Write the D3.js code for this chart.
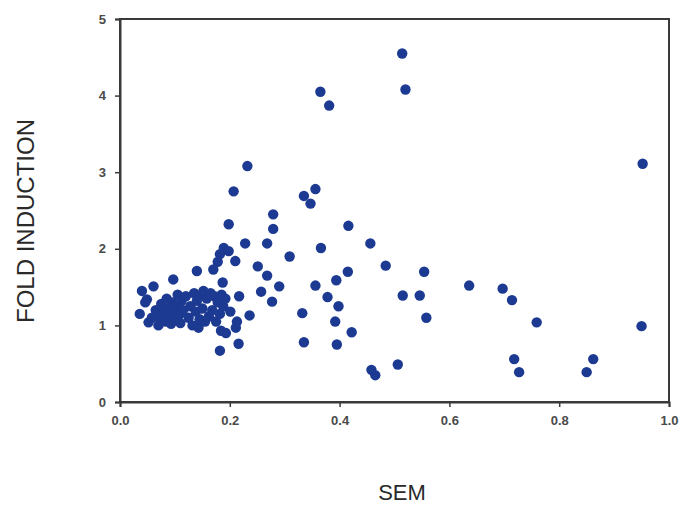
<!DOCTYPE html>
<html>
<head>
<meta charset="utf-8">
<script src="https://cdn.jsdelivr.net/npm/d3@7"></script>
<style>
  body { margin: 0; background: #fff; }
  svg { display: block; }
</style>
</head>
<body>
<div id="scatter"></div>
<script>
// SEM (x) and fold induction (y)
var semValues = [
  0.514, 0.520, 0.365, 0.381, 0.952, 0.232, 0.356, 0.207, 0.335, 0.347,
  0.279, 0.198, 0.416, 0.279, 0.228, 0.268, 0.456, 0.366, 0.189, 0.198,
  0.182, 0.309, 0.210, 0.178, 0.484, 0.251, 0.170, 0.140, 0.415, 0.554,
  0.268, 0.097, 0.394, 0.187, 0.636, 0.356, 0.061, 0.290, 0.697, 0.040,
  0.257, 0.515, 0.546, 0.217, 0.378, 0.049, 0.714, 0.277, 0.398, 0.201,
  0.332, 0.036, 0.236, 0.558, 0.392, 0.213, 0.052, 0.759, 0.950, 0.211,
  0.143, 0.184, 0.193, 0.422, 0.335, 0.216, 0.395, 0.182, 0.718, 0.862,
  0.506, 0.458, 0.465, 0.727, 0.850,
  // dense cluster near the origin
  0.065, 0.072, 0.075, 0.080, 0.083, 0.085, 0.088, 0.090, 0.093, 0.095,
  0.098, 0.100, 0.103, 0.105, 0.108, 0.110, 0.112, 0.115, 0.070, 0.078,
  0.120, 0.125, 0.128, 0.132, 0.135, 0.138, 0.140, 0.145, 0.148, 0.150,
  0.152, 0.155, 0.158, 0.162, 0.165, 0.168, 0.172, 0.175, 0.178, 0.182,
  0.185, 0.188, 0.192, 0.046, 0.058
];
var foldValues = [
  4.55, 4.08, 4.05, 3.87, 3.11, 3.08, 2.78, 2.75, 2.69, 2.59,
  2.45, 2.32, 2.30, 2.26, 2.07, 2.07, 2.07, 2.01, 2.01, 1.97,
  1.93, 1.90, 1.84, 1.83, 1.78, 1.77, 1.73, 1.71, 1.70, 1.70,
  1.65, 1.60, 1.59, 1.56, 1.52, 1.52, 1.51, 1.51, 1.48, 1.45,
  1.44, 1.39, 1.39, 1.38, 1.37, 1.34, 1.33, 1.31, 1.25, 1.18,
  1.16, 1.15, 1.13, 1.10, 1.05, 1.05, 1.04, 1.04, 0.99, 0.97,
  0.97, 0.93, 0.90, 0.91, 0.78, 0.76, 0.75, 0.67, 0.56, 0.56,
  0.49, 0.42, 0.35, 0.39, 0.39,
  1.20, 1.10, 1.28, 1.15, 1.05, 1.35, 1.22, 1.12, 1.02, 1.30,
  1.18, 1.08, 1.25, 1.40, 1.14, 1.03, 1.32, 1.20, 1.00, 1.24,
  1.38, 1.10, 1.25, 1.00, 1.42, 1.18, 1.32, 1.08, 1.40, 1.22,
  1.45, 1.05, 1.35, 1.12, 1.42, 1.20, 1.38, 1.05, 1.30, 1.15,
  1.40, 1.25, 1.35, 1.30, 1.10
];

// tick values
var xTicks = [0.0, 0.2, 0.4, 0.6, 0.8, 1.0];
var yTicks = [0, 1, 2, 3, 4, 5];

var svgWidth = 682;
var svgHeight = 506;
var margin = { top: 19, right: 13, bottom: 104, left: 120 };
var width = svgWidth - margin.left - margin.right;
var height = svgHeight - margin.top - margin.bottom;

var points = semValues.map(function(s, i) {
  return { sem: s, fold: foldValues[i] };
});

var svg = d3.select("#scatter")
  .append("svg")
  .attr("width", svgWidth)
  .attr("height", svgHeight);

var chartGroup = svg.append("g")
  .attr("transform", `translate(${margin.left}, ${margin.top})`);

var xScale = d3.scaleLinear().domain([0, 1]).range([0, width]);
var yScale = d3.scaleLinear().domain([0, 5]).range([height, 0]);

var axisColor = "#3a3a3a";

// frame (top and right edges)
chartGroup.append("rect")
  .attr("x", 0)
  .attr("y", 0)
  .attr("width", width)
  .attr("height", height)
  .attr("fill", "none")
  .attr("stroke", axisColor)
  .attr("stroke-width", 2);

var bottomAxis = d3.axisBottom(xScale)
  .tickValues(xTicks)
  .tickSize(5)
  .tickPadding(9)
  .tickFormat(d3.format(".1f"));

var leftAxis = d3.axisLeft(yScale)
  .tickValues(yTicks)
  .tickSize(5)
  .tickPadding(9)
  .tickFormat(d3.format("d"));

var xg = chartGroup.append("g")
  .attr("transform", `translate(0, ${height})`)
  .call(bottomAxis);

var yg = chartGroup.append("g")
  .call(leftAxis);

[xg, yg].forEach(function(g) {
  g.select(".domain").attr("stroke", axisColor).attr("stroke-width", 2);
  g.selectAll(".tick line").attr("stroke", axisColor).attr("stroke-width", 1.5);
  g.selectAll(".tick text")
    .attr("fill", "#4a4a4a")
    .attr("font-family", "Liberation Sans, Arial, sans-serif")
    .attr("font-size", "13px")
    .attr("font-weight", "bold");
});

// dots
chartGroup.append("g").selectAll("circle")
  .data(points)
  .enter()
  .append("circle")
  .attr("cx", d => xScale(d.sem))
  .attr("cy", d => yScale(d.fold))
  .attr("r", 5.2)
  .attr("fill", "#1d3a92");

// axis titles
svg.append("text")
  .attr("transform", "translate(34, 221) rotate(-90)")
  .attr("text-anchor", "middle")
  .attr("font-family", "Liberation Sans, Arial, sans-serif")
  .attr("font-size", "24px")
  .attr("fill", "#2a2a2a")
  .text("FOLD INDUCTION");

svg.append("text")
  .attr("x", 402)
  .attr("y", 500)
  .attr("text-anchor", "middle")
  .attr("font-family", "Liberation Sans, Arial, sans-serif")
  .attr("font-size", "22px")
  .attr("fill", "#2a2a2a")
  .text("SEM");
</script>
</body>
</html>
